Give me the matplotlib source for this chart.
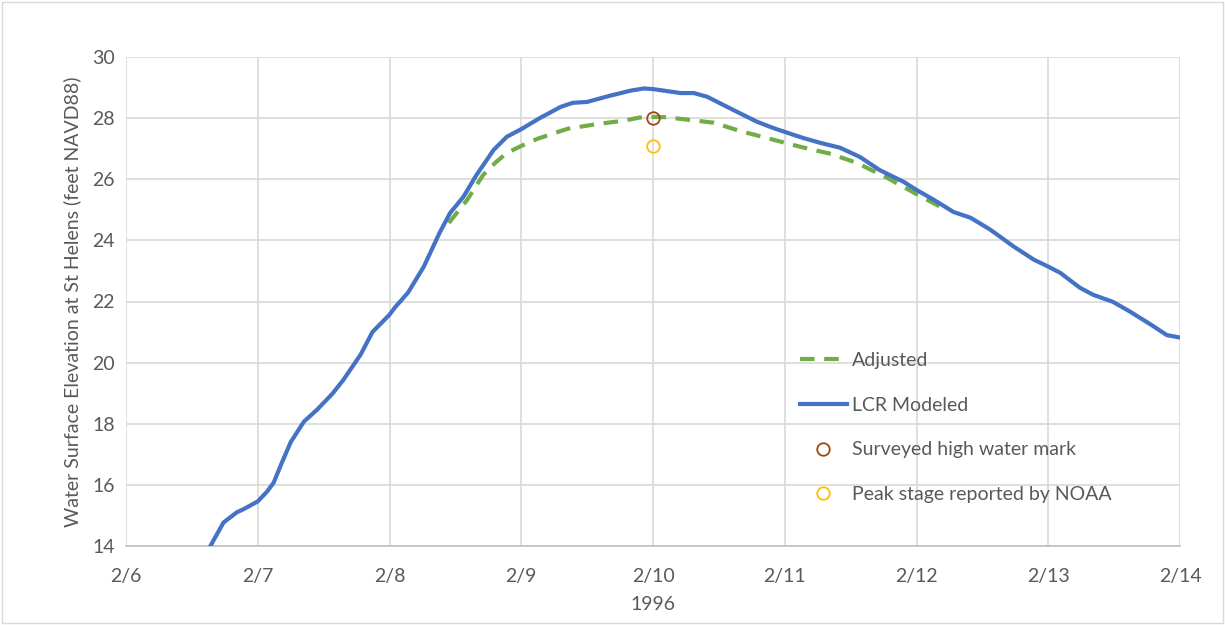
import matplotlib
matplotlib.use("Agg")
import matplotlib.pyplot as plt
from matplotlib.patches import Rectangle

# day of February 1996 (fractional) and water surface elevation
lcr_day = [6.58, 6.64, 6.74, 6.84, 6.89, 7.0, 7.07, 7.12, 7.18, 7.25, 7.35, 7.45, 7.57, 7.65,
           7.78, 7.87, 8.0, 8.04, 8.14, 8.26, 8.38, 8.46, 8.56, 8.66, 8.79, 8.89, 9.0, 9.14,
           9.3, 9.39, 9.5, 9.67, 9.83, 9.93, 10.0, 10.21, 10.31, 10.41, 10.64, 10.79, 10.91,
           11.02, 11.14, 11.27, 11.42, 11.57, 11.72, 11.9, 12.0, 12.13, 12.28, 12.41, 12.56,
           12.74, 12.89, 13.0, 13.09, 13.24, 13.34, 13.49, 13.62, 13.78, 13.9, 14.0]
lcr_elev = [13.5, 14.0, 14.77, 15.1, 15.2, 15.46, 15.78, 16.07, 16.7, 17.4, 18.07, 18.46, 19.0, 19.44,
            20.26, 21.0, 21.57, 21.8, 22.29, 23.14, 24.25, 24.9, 25.42, 26.14, 26.96, 27.39, 27.64, 28.0,
            28.37, 28.5, 28.53, 28.73, 28.9, 28.97, 28.95, 28.82, 28.82, 28.7, 28.2, 27.88, 27.68,
            27.52, 27.35, 27.19, 27.03, 26.73, 26.3, 25.92, 25.65, 25.33, 24.93, 24.74, 24.35,
            23.79, 23.37, 23.14, 22.94, 22.45, 22.22, 21.99, 21.67, 21.24, 20.9, 20.82]

adj_day = [8.45, 8.59, 8.71, 8.8, 8.89, 9.0, 9.12, 9.35, 9.58, 9.77, 9.9, 10.0, 10.1, 10.28,
           10.46, 10.66, 10.89, 11.12, 11.35, 11.55, 11.78, 11.98, 12.18]
adj_elev = [24.57, 25.33, 26.14, 26.53, 26.86, 27.09, 27.32, 27.65, 27.81, 27.91, 28.02, 28.04, 28.03, 27.94,
            27.85, 27.58, 27.32, 27.06, 26.83, 26.53, 26.04, 25.56, 25.1]

hwm_day, hwm_elev = [10.0], [28.0]
noaa_day, noaa_elev = [10.0], [27.1]

tick_days = [6, 7, 8, 9, 10, 11, 12, 13, 14]
tick_labels = [f"2/{d}" for d in tick_days]

plt.rcParams['font.family'] = ['Lato', 'DejaVu Sans']
txt = '#595959'

fig = plt.figure(figsize=(12.25, 6.25), dpi=100)
ax = fig.add_axes([0.1029, 0.1264, 0.8604, 0.7824])

ax.plot(adj_day, adj_elev, color='#70AD47', lw=3, dashes=(3.5, 2.3), label='Adjusted', zorder=3)
ax.plot(lcr_day, lcr_elev, color='#4472C4', lw=3, label='LCR Modeled', zorder=4)
ax.plot(hwm_day, hwm_elev, 'o', ms=9, mfc='none', mec='#9E480E', mew=1.3,
        label='Surveyed high water mark', zorder=5)
ax.plot(noaa_day, noaa_elev, 'o', ms=9, mfc='none', mec='#FFC000', mew=1.3,
        label='Peak stage reported by NOAA', zorder=5)

ax.set_xlim(6, 14)
ax.set_ylim(14, 30)
ax.set_xticks(tick_days)
ax.set_xticklabels(tick_labels)
ax.set_yticks(range(14, 31, 2))
ax.grid(True, color='#D9D9D9', lw=1.2)
ax.set_axisbelow(True)
for s in ['top', 'right', 'left']:
    ax.spines[s].set_visible(False)
ax.spines['bottom'].set_color('#BFBFBF')
ax.spines['bottom'].set_linewidth(1.2)
ax.tick_params(length=0, labelsize=14, colors=txt)
ax.tick_params(axis='x', pad=16)
ax.tick_params(axis='y', pad=8)

ax.set_xlabel('1996', fontsize=14, color=txt, labelpad=8)
ax.set_ylabel('Water Surface Elevation at St Helens (feet NAVD88)', fontsize=14, color=txt, labelpad=8)

leg = ax.legend(loc='center left', bbox_to_anchor=(0.653, 0.316), bbox_transform=fig.transFigure,
                frameon=False, fontsize=14, labelspacing=1.42, handlelength=2.4,
                handletextpad=0.3, borderpad=0, borderaxespad=0)
for t in leg.get_texts():
    t.set_color(txt)

fig.patches.append(Rectangle((0.002, 0.003), 0.996, 0.994, transform=fig.transFigure,
                             fill=False, ec='#D9D9D9', lw=1))

fig.savefig('out.png', dpi=100, facecolor='white')
